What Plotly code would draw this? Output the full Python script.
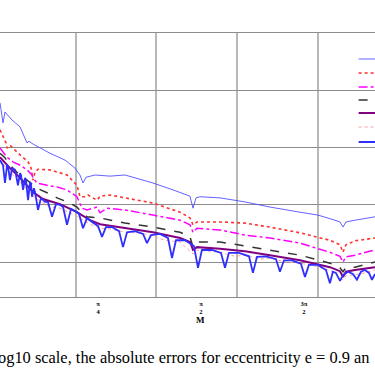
import numpy as np
import plotly.graph_objects as go

# ---------------- data (M in radians, log10 of absolute error) ----------------
x_tick_vals = [np.pi / 4, np.pi / 2, 3 * np.pi / 4]
x_tick_text = ["<b>π</b><br><b>4</b>", "<b>π</b><br><b>2</b>", "<b>3π</b><br><b>2</b>"]

names = ["Method A", "Method B", "Method C", "Method D", "Method E", "Method F", "Method G"]

m1 = [0.038, 0.061, 0.076, 0.130, 0.191, 0.244, 0.259, 0.290, 0.419, 0.534, 0.610, 0.648,
      0.671, 0.694, 0.763, 0.877, 0.991, 1.052, 1.205, 1.357, 1.487, 1.510, 1.533, 1.563,
      1.716, 1.906, 2.097, 2.326, 2.463, 2.593, 2.631, 2.654, 2.676, 2.745, 2.898]
e1 = [-11.22, -11.57, -11.38, -11.52, -11.64, -11.92, -11.89, -11.94, -12.10, -12.22, -12.36, -12.48,
      -12.62, -12.52, -12.48, -12.50, -12.48, -12.52, -12.62, -12.74, -12.85, -13.06, -12.88, -12.86,
      -12.88, -12.95, -13.04, -13.13, -13.18, -13.27, -13.30, -13.39, -13.30, -13.27, -13.21]

m2 = [0.038, 0.061, 0.084, 0.092, 0.114, 0.191, 0.252, 0.275, 0.290, 0.305, 0.328, 0.419,
      0.549, 0.625, 0.648, 0.686, 0.709, 0.747, 0.778, 0.801, 0.877, 0.991, 1.205, 1.411,
      1.487, 1.510, 1.540, 1.716, 1.906, 2.097, 2.326, 2.554, 2.631, 2.654, 2.676, 2.745, 2.898]
e2 = [-11.69, -11.82, -11.92, -12.01, -11.96, -12.13, -12.25, -12.36, -12.57, -12.43, -12.38, -12.39,
      -12.48, -12.66, -12.86, -12.86, -12.83, -12.88, -12.92, -12.85, -12.83, -12.88, -12.97, -13.13,
      -13.23, -13.35, -13.30, -13.30, -13.32, -13.39, -13.49, -13.62, -13.70, -13.83, -13.70, -13.63, -13.58]

m3 = [0.038, 0.092, 0.137, 0.191, 0.244, 0.282, 0.290, 0.320, 0.397, 0.473, 0.549, 0.625,
      0.663, 0.702, 0.778, 0.801, 0.854, 0.991, 1.205, 1.411, 1.487, 1.510, 1.540, 1.716,
      1.906, 2.097, 2.326, 2.554, 2.631, 2.654, 2.676, 2.745, 2.898]
e3 = [-12.01, -12.17, -12.25, -12.31, -12.39, -12.48, -12.53, -12.62, -12.66, -12.69, -12.74, -12.86,
      -13.06, -13.09, -13.04, -13.14, -13.06, -13.09, -13.18, -13.27, -13.35, -13.48, -13.41, -13.44,
      -13.53, -13.58, -13.67, -13.83, -13.90, -14.00, -13.91, -13.88, -13.79]

m4 = [0.038, 0.076, 0.114, 0.175, 0.244, 0.320, 0.397, 0.473, 0.572, 0.625, 0.663, 0.702,
      0.801, 0.900, 0.991, 1.205, 1.411, 1.487, 1.510, 1.540, 1.716, 1.906, 2.097, 2.326,
      2.554, 2.631, 2.654, 2.676, 2.745, 2.898]
e4 = [-12.10, -12.18, -12.31, -12.45, -12.57, -12.71, -12.79, -12.88, -12.97, -13.04, -13.14, -13.21,
      -13.23, -13.27, -13.32, -13.39, -13.48, -13.56, -13.74, -13.65, -13.65, -13.72, -13.79, -13.88,
      -14.02, -14.10, -14.17, -14.10, -14.09, -14.00]

m5 = [0.038, 0.114, 0.191, 0.290, 0.366, 0.496, 0.625, 0.724, 0.801, 0.991, 1.205, 1.411,
      1.487, 1.510, 1.540, 1.716, 1.906, 2.097, 2.326, 2.554, 2.631, 2.654, 2.676, 2.745, 2.898]
e5 = [-12.17, -12.36, -12.53, -12.78, -12.90, -12.99, -13.13, -13.27, -13.34, -13.41, -13.48, -13.58,
      -13.65, -13.79, -13.74, -13.77, -13.81, -13.88, -13.97, -14.09, -14.16, -14.26, -14.17, -14.14, -14.09]

m6 = [0.038, 0.114, 0.191, 0.290, 0.366, 0.419, 0.496, 0.625, 0.724, 0.801, 0.877, 0.991,
      1.106, 1.205, 1.296, 1.411, 1.510, 1.540, 1.716, 1.830, 1.906, 2.021, 2.097, 2.211,
      2.326, 2.440, 2.554, 2.654, 2.676, 2.783, 2.898]
e6 = [-12.22, -12.43, -12.60, -12.85, -12.97, -13.04, -13.06, -13.20, -13.34, -13.41, -13.42, -13.48,
      -13.49, -13.55, -13.62, -13.65, -13.86, -13.79, -13.83, -13.90, -13.88, -13.95, -13.93, -14.00,
      -14.02, -14.07, -14.14, -14.31, -14.24, -14.21, -14.14]

m7 = [0.038, 0.061, 0.076, 0.092, 0.099, 0.114, 0.130, 0.153, 0.175, 0.191, 0.198, 0.214,
      0.229, 0.236, 0.252, 0.267, 0.275, 0.282, 0.297, 0.305, 0.328, 0.351, 0.381, 0.404,
      0.435, 0.465, 0.496, 0.519, 0.549, 0.580, 0.610, 0.641, 0.671, 0.702, 0.740, 0.785,
      0.816, 0.846, 0.892, 0.946, 0.976, 1.007, 1.068, 1.129, 1.159, 1.190, 1.258, 1.319,
      1.350, 1.380, 1.449, 1.517, 1.548, 1.578, 1.655, 1.723, 1.754, 1.784, 1.861, 1.937,
      1.967, 1.998, 2.067, 2.143, 2.173, 2.204, 2.265, 2.333, 2.364, 2.394, 2.463, 2.524,
      2.554, 2.577, 2.600, 2.631, 2.654, 2.691, 2.730, 2.760, 2.791, 2.821, 2.852, 2.875, 2.898]
e7 = [-12.22, -12.31, -12.62, -12.31, -12.32, -12.57, -12.36, -12.39, -12.66, -12.45, -12.48, -12.74,
      -12.53, -12.57, -12.92, -12.60, -12.64, -12.86, -12.71, -12.78, -13.09, -12.88, -12.95, -12.95,
      -13.21, -12.99, -13.00, -13.04, -13.35, -13.07, -13.11, -13.16, -13.41, -13.23, -13.30, -13.37,
      -13.56, -13.39, -13.39, -13.46, -13.74, -13.48, -13.46, -13.51, -13.67, -13.53, -13.51, -13.58,
      -13.93, -13.62, -13.62, -13.72, -14.10, -13.79, -13.79, -13.84, -14.10, -13.84, -13.84, -13.90,
      -14.19, -13.91, -13.90, -13.95, -14.17, -13.97, -13.97, -14.03, -14.26, -14.05, -14.05, -14.14,
      -14.37, -14.17, -14.19, -14.33, -14.23, -14.17, -14.21, -14.31, -14.17, -14.14, -14.19, -14.31, -14.21]

xs = [m1, m2, m3, m4, m5, m6, m7]
ys = [e1, e2, e3, e4, e5, e6, e7]

colors = ["rgba(70,70,255,0.85)", "#ff3030", "#ff00ff", "#333333", "#800080", "#ff9c9c", "#2f2fff"]
dashes = ["solid", "dot", "dashdot", "dash", "solid", "dot", "solid"]
widths = [1, 1.6, 1.5, 1.5, 2, 1, 1.8]
legend_y = [59, 73, 87, 100, 113, 127, 142]

fig = go.Figure()
for i in range(7):
    lg = "legend" if i == 0 else f"legend{i + 1}"
    fig.add_trace(go.Scatter(
        x=xs[i], y=[10 ** v for v in ys[i]], mode="lines", name=names[i],
        line=dict(color=colors[i], dash=dashes[i], width=widths[i]),
        legend=lg,
    ))

layout = dict(
    width=375, height=375,
    margin=dict(l=0, r=0, t=33, b=78, autoexpand=False),
    paper_bgcolor="white", plot_bgcolor="white",
    font=dict(family="Liberation Serif", color="black"),
    xaxis=dict(
        range=[0.038, 2.898], tickmode="array", tickvals=x_tick_vals, ticktext=x_tick_text,
        tickfont=dict(size=6.5, family="Liberation Serif", color="black"),
        showgrid=False, zeroline=False, ticks="",
        showline=True, mirror=True, linecolor="#8c8c8c", linewidth=1,
        minor=dict(tickmode="linear", tick0=0, dtick=0.6155, showgrid=True,
                   gridcolor="#b8b8b8", gridwidth=2, ticks=""),
    ),
    yaxis=dict(
        type="log", range=[-14.611, -10], dtick=1, showticklabels=False, ticks="",
        showgrid=True, gridcolor="#8c8c8c", gridwidth=1, zeroline=False, showline=False,
    ),
    showlegend=True,
    annotations=[
        dict(text="<b>M</b>", x=np.pi / 2, xref="x", y=-0.087, yref="paper",
             showarrow=False, font=dict(size=9, family="Liberation Serif", color="black"),
             xanchor="center", yanchor="middle"),
        dict(text="og10 scale, the absolute errors for eccentricity e = 0.9 an",
             x=-0.01, xref="paper", y=-0.231, yref="paper", showarrow=False,
             xanchor="left", yanchor="middle",
             font=dict(size=16.4, family="Liberation Serif", color="black")),
    ],
)
for i in range(7):
    key = "legend" if i == 0 else f"legend{i + 1}"
    layout[key] = dict(x=0.943, xanchor="left", xref="container",
                       y=1 - legend_y[i] / 375, yanchor="middle", yref="container",
                       bgcolor="rgba(0,0,0,0)", font=dict(size=9))
fig.update_layout(**layout)

fig.write_html("out.html", config={"displayModeBar": False},
               post_script="document.body.style.margin='0px';")
